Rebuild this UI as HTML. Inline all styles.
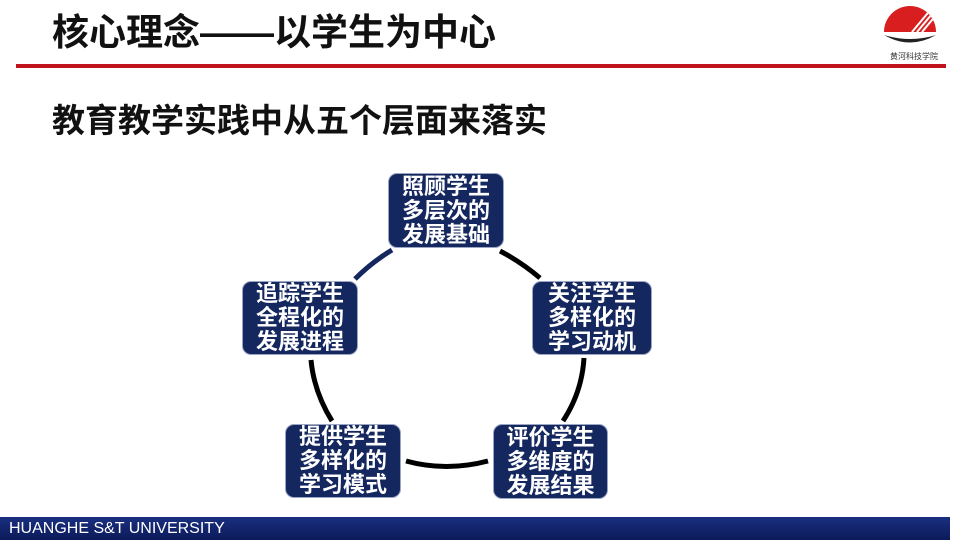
<!DOCTYPE html>
<html><head><meta charset="utf-8"><style>
body{margin:0;width:960px;height:540px;position:relative;background:#fff;overflow:hidden;font-family:"Liberation Sans","Noto Sans CJK SC",sans-serif}
.t{position:absolute;font-weight:bold;color:#111;white-space:nowrap}
.box{position:absolute;background:#14275e;border-radius:9px;color:#fff;font-weight:bold;font-size:22px;line-height:24px;text-align:center;display:flex;align-items:center;justify-content:center;border:1px solid #9aa6c4;box-sizing:border-box}
</style></head><body>
<div class="t" style="left:52px;top:11px;font-size:37px;line-height:44px">核心理念——以学生为中心</div>
<div style="position:absolute;left:16px;top:64px;width:930px;height:4px;background:#c0141c"></div>
<svg style="position:absolute;left:860px;top:0" width="100" height="62">
<defs><clipPath id="c"><path d="M24 32 A26 26 0 0 1 76 32 Z"/></clipPath></defs>
<path d="M24 32 A26 26 0 0 1 76 32 Z" fill="#d81e1e"/>
<path d="M24 35 Q50 50 76 35 Q50 43 24 35Z" fill="#222"/>
<g clip-path="url(#c)" stroke="#fff" stroke-width="2"><line x1="52" y1="32" x2="72" y2="8"/><line x1="57" y1="32" x2="77" y2="8"/><line x1="62" y1="32" x2="82" y2="8"/></g>
<text x="54" y="59" font-size="8" text-anchor="middle" fill="#333" font-family="Noto Sans CJK SC,sans-serif">黄河科技学院</text>
</svg>
<div class="t" style="left:52px;top:100px;font-size:33px;line-height:42px">教育教学实践中从五个层面来落实</div>
<svg style="position:absolute;left:0;top:0" width="960" height="540" fill="none" stroke-width="5">
<path d="M355 279 Q372 262 392 250" stroke="#14275e"/>
<path d="M500 251 Q521 262 540 278" stroke="#000"/>
<path d="M584 358 Q582 392 563 421" stroke="#000"/>
<path d="M406 461 Q446 472 488 461" stroke="#000"/>
<path d="M311 360 Q314 392 332 421" stroke="#000"/>
</svg>
<div class="box" style="left:388px;top:173px;width:116px;height:75px">照顾学生<br>多层次的<br>发展基础</div>
<div class="box" style="left:532px;top:281px;width:120px;height:74px">关注学生<br>多样化的<br>学习动机</div>
<div class="box" style="left:242px;top:281px;width:116px;height:74px">追踪学生<br>全程化的<br>发展进程</div>
<div class="box" style="left:285px;top:424px;width:116px;height:74px">提供学生<br>多样化的<br>学习模式</div>
<div class="box" style="left:493px;top:424px;width:115px;height:75px">评价学生<br>多维度的<br>发展结果</div>
<div style="position:absolute;left:0;top:517px;width:950px;height:23px;background:linear-gradient(#1a2f80,#0c1a5a);color:#fff;font-size:16px;line-height:23px;padding-left:9px;box-sizing:border-box">HUANGHE S&amp;T UNIVERSITY</div>
</body></html>
